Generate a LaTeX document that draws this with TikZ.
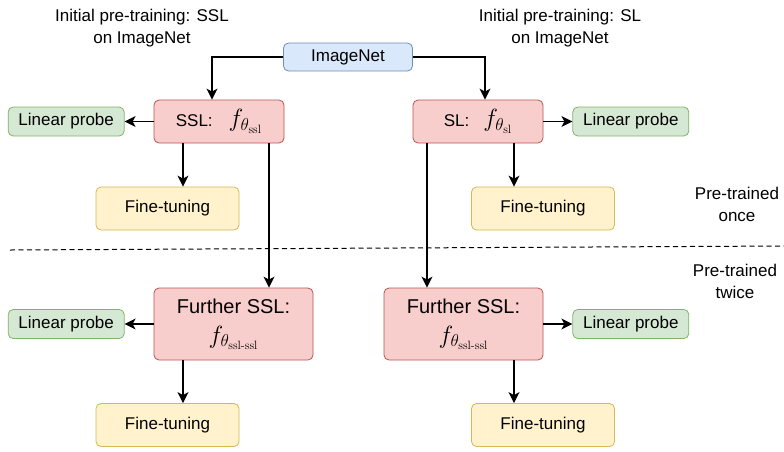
\documentclass[tikz,border=0pt]{standalone}
\usepackage[no-math]{fontspec}
\setmainfont{Liberation Sans}
\usepackage{xcolor}
\definecolor{datafill}{HTML}{DAE8FC}
\definecolor{dataline}{HTML}{6C8EBF}
\definecolor{modelfill}{HTML}{F8CECC}
\definecolor{modelline}{HTML}{B85450}
\definecolor{probefill}{HTML}{D5E8D4}
\definecolor{probeline}{HTML}{82B366}
\definecolor{tunefill}{HTML}{FFF2CC}
\definecolor{tuneline}{HTML}{D6B656}
\usepackage{tikz}
\usetikzlibrary{positioning, arrows.meta}
\DeclareMathSizes{24.88}{24.88}{17.28}{12}
\newcommand{\mfont}{\fontsize{24.88}{26}\selectfont}
\newcommand{\fssl}{{\mfont$f_{\theta_{\mathrm{ssl\mathchar"2D ssl}}}$}}

\begin{document}
\begin{tikzpicture}
[->,
 >={Stealth[length=11pt,width=11pt,inset=3pt]},
 x=1pt, y=-1pt,
 line width=1.1pt,
 font=\fontsize{17}{22}\selectfont,
 box/.style={rectangle, rounded corners=5pt, line width=0.8pt,
   inner sep=0pt, align=center},
 data/.style={box, draw=dataline, fill=datafill,
   minimum width=129pt, minimum height=28pt},
 model/.style={box, draw=modelline, fill=modelfill,
   minimum width=130pt, minimum height=43pt},
 further/.style={model, minimum width=159pt, minimum height=72pt,
   font=\fontsize{20}{24}\selectfont},
 probe/.style={box, draw=probeline, fill=probefill,
   minimum width=116pt, minimum height=29pt},
 tune/.style={box, draw=tuneline, fill=tunefill,
   minimum width=143pt, minimum height=43pt},
 note/.style={align=center},
]
\useasboundingbox (0,0) rectangle (784,451);

% pre-trained once
\node[data]  (imagenet) at (348,57)    {ImageNet};
\node[model] (ssl)      at (219,121.5) {SSL:\hspace{16pt}{\mfont$f_{\theta_{\mathrm{ssl}}}$}};
\node[model] (sl)       at (478,121.5) {SL:\hspace{14pt}{\mfont$f_{\theta_{\mathrm{sl}}}$}};
\node[probe, left=29pt of ssl] (probe1) {Linear probe};
\node[probe, right=29pt of sl] (probe2) {Linear probe};
\node[tune]  (tune1) at (167.5,208.5) {Fine-tuning};
\node[tune]  (tune2) at (543,208.5)   {Fine-tuning};

% pre-trained twice
\node[further] (further1) at (233.5,324) {Further SSL:\\[6pt]\fssl};
\node[further] (further2) at (463.5,324) {Further SSL:\\[6pt]\fssl};
\node[probe, left=29pt of further1]  (probe3) {Linear probe};
\node[probe, right=29pt of further2] (probe4) {Linear probe};
\node[tune]  (tune3) at (167.5,425) {Fine-tuning};
\node[tune]  (tune4) at (543,425)   {Fine-tuning};

% notes
\node[note] (notessl) at (142,28) {Initial pre-training: SSL\\on ImageNet};
\node[note] (notesl)  at (560,28) {Initial pre-training: SL\\on ImageNet};
\node[note] (once)    at (737,204) {Pre-trained\\once};
\node[note] (twice)   at (735,281) {Pre-trained\\twice};

\coordinate (cutL) at (10,250);
\coordinate (cutR) at (784,246);
\draw[-, line width=1pt, dash pattern=on 5pt off 3.5pt] (cutL) -- (cutR);

\draw (imagenet.west) -| ([xshift=-7pt]ssl.north);
\draw (imagenet.east) -| ([xshift=7pt]sl.north);
\draw (ssl.west) -- (probe1.east);
\draw (sl.east) -- (probe2.west);
\draw ([xshift=-36pt]ssl.south) -- ([xshift=-36pt]ssl.south |- tune1.north);
\draw ([xshift=36pt]sl.south) -- ([xshift=36pt]sl.south |- tune2.north);
\draw ([xshift=50pt]ssl.south) -- ([xshift=50pt]ssl.south |- further1.north);
\draw ([xshift=-51pt]sl.south) -- ([xshift=-51pt]sl.south |- further2.north);
\draw (further1.west) -- (probe3.east);
\draw (further2.east) -- (probe4.west);
\draw ([xshift=-50.5pt]further1.south) -- ([xshift=-50.5pt]further1.south |- tune3.north);
\draw ([xshift=50.5pt]further2.south) -- ([xshift=50.5pt]further2.south |- tune4.north);
\end{tikzpicture}
\end{document}
